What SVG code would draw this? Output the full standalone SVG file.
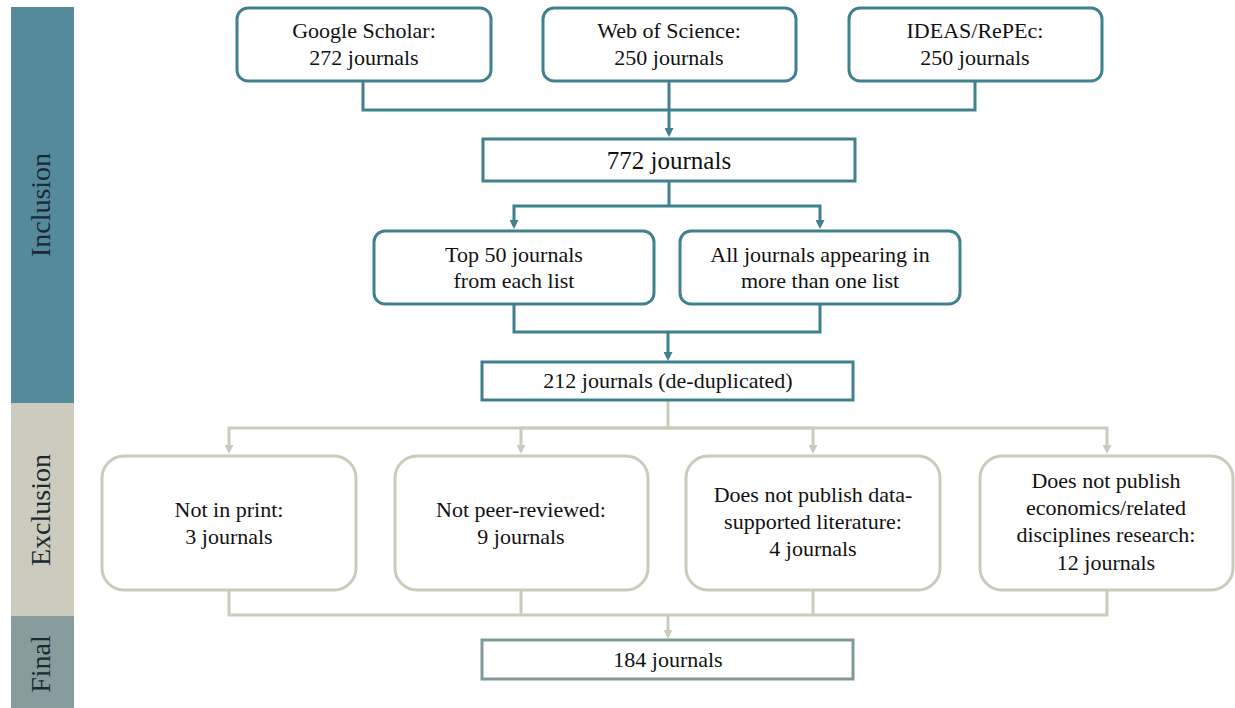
<svg xmlns="http://www.w3.org/2000/svg" width="1235" height="708" viewBox="0 0 1235 708">
<style>
.t{font-family:"Liberation Serif","Times New Roman",serif;font-size:22px;fill:#111;text-anchor:middle}
.big{font-size:25px}
.side{font-family:"Liberation Serif","Times New Roman",serif;font-size:28px;fill:#1a2a30;text-anchor:middle}
.inc{fill:#fff;stroke:#41808f;stroke-width:3}
.exc{fill:#fff;stroke:#cbcbbb;stroke-width:3}
.fin{fill:#fff;stroke:#82999a;stroke-width:3}
.ct{fill:none;stroke:#41808f;stroke-width:3}
.ce{fill:none;stroke:#cbcbbb;stroke-width:3}
</style>
<defs>
<marker id="at" viewBox="0 0 9 9" refX="6" refY="4.5" markerWidth="9" markerHeight="9" markerUnits="userSpaceOnUse" orient="auto"><path d="M0,0 L9,4.5 L0,9z" fill="#41808f"/></marker>
<marker id="ae" viewBox="0 0 9 9" refX="6" refY="4.5" markerWidth="9" markerHeight="9" markerUnits="userSpaceOnUse" orient="auto"><path d="M0,0 L9,4.5 L0,9z" fill="#cbcbbb"/></marker>
</defs>
<rect width="1235" height="708" fill="#fff"/>
<g id="bands">
<rect x="11" y="7" width="63" height="396" fill="#558a9c"/>
<rect x="11" y="403" width="63" height="213" fill="#cccbbd"/>
<rect x="11" y="616" width="63" height="92" fill="#879d9d"/>
<text class="side" transform="translate(50,205) rotate(-90)">Inclusion</text>
<text class="side" transform="translate(50,510) rotate(-90)">Exclusion</text>
<text class="side" transform="translate(50,664) rotate(-90)">Final</text>
</g>
<g id="connectors">
<path class="ct" d="M363,81 V110 H975 V81"/>
<path class="ct" d="M669,81 V134" marker-end="url(#at)"/>
<path class="ct" d="M669,181 V206"/>
<path class="ct" d="M669,206 H514 V226" marker-end="url(#at)"/>
<path class="ct" d="M669,206 H820 V226" marker-end="url(#at)"/>
<path class="ct" d="M514,304 V332 H820 V304"/>
<path class="ct" d="M668,332 V358" marker-end="url(#at)"/>
<path class="ce" d="M668,400 V428"/>
<path class="ce" d="M668,428 H229 V451" marker-end="url(#ae)"/>
<path class="ce" d="M668,428 H521 V451" marker-end="url(#ae)"/>
<path class="ce" d="M668,428 H813 V451" marker-end="url(#ae)"/>
<path class="ce" d="M668,428 H1107 V451" marker-end="url(#ae)"/>
<path class="ce" d="M229,590 V615 H1107 V590"/>
<path class="ce" d="M521,590 V615"/>
<path class="ce" d="M813,590 V615"/>
<path class="ce" d="M668,615 V636" marker-end="url(#ae)"/>
</g>
<g id="google">
<rect class="inc" x="237" y="8" width="254" height="73" rx="11"/>
<text class="t" x="364" y="38">Google Scholar:</text>
<text class="t" x="364" y="65">272 journals</text>
</g>
<g id="wos">
<rect class="inc" x="543" y="8" width="253" height="73" rx="11"/>
<text class="t" x="669" y="38">Web of Science:</text>
<text class="t" x="669" y="65">250 journals</text>
</g>
<g id="ideas">
<rect class="inc" x="849" y="8" width="253" height="73" rx="11"/>
<text class="t" x="975" y="38">IDEAS/RePEc:</text>
<text class="t" x="975" y="65">250 journals</text>
</g>
<g id="n772">
<rect class="inc" x="483" y="139" width="372" height="42"/>
<text class="t big" x="669" y="169">772 journals</text>
</g>
<g id="top50">
<rect class="inc" x="374" y="231" width="280" height="73" rx="11"/>
<text class="t" x="514" y="262">Top 50 journals</text>
<text class="t" x="514" y="288">from each list</text>
</g>
<g id="alljournals">
<rect class="inc" x="680" y="231" width="280" height="73" rx="11"/>
<text class="t" x="820" y="262">All journals appearing in</text>
<text class="t" x="820" y="288">more than one list</text>
</g>
<g id="n212">
<rect class="inc" x="482" y="362" width="371" height="38"/>
<text class="t" x="668" y="388">212 journals (de-duplicated)</text>
</g>
<g id="notprint">
<rect class="exc" x="102" y="456" width="254" height="134" rx="22"/>
<text class="t" x="229" y="517">Not in print:</text>
<text class="t" x="229" y="544">3 journals</text>
</g>
<g id="notpeer">
<rect class="exc" x="395" y="456" width="253" height="134" rx="22"/>
<text class="t" x="521" y="517">Not peer-reviewed:</text>
<text class="t" x="521" y="544">9 journals</text>
</g>
<g id="nodata">
<rect class="exc" x="686" y="456" width="254" height="134" rx="22"/>
<text class="t" x="813" y="502">Does not publish data-</text>
<text class="t" x="813" y="529">supported literature:</text>
<text class="t" x="813" y="556">4 journals</text>
</g>
<g id="noecon">
<rect class="exc" x="980" y="456" width="253" height="134" rx="22"/>
<text class="t" x="1106" y="488">Does not publish</text>
<text class="t" x="1106" y="515">economics/related</text>
<text class="t" x="1106" y="542">disciplines research:</text>
<text class="t" x="1106" y="570">12 journals</text>
</g>
<g id="n184">
<rect class="fin" x="482" y="640" width="371" height="39"/>
<text class="t" x="668" y="667">184 journals</text>
</g>
</svg>
